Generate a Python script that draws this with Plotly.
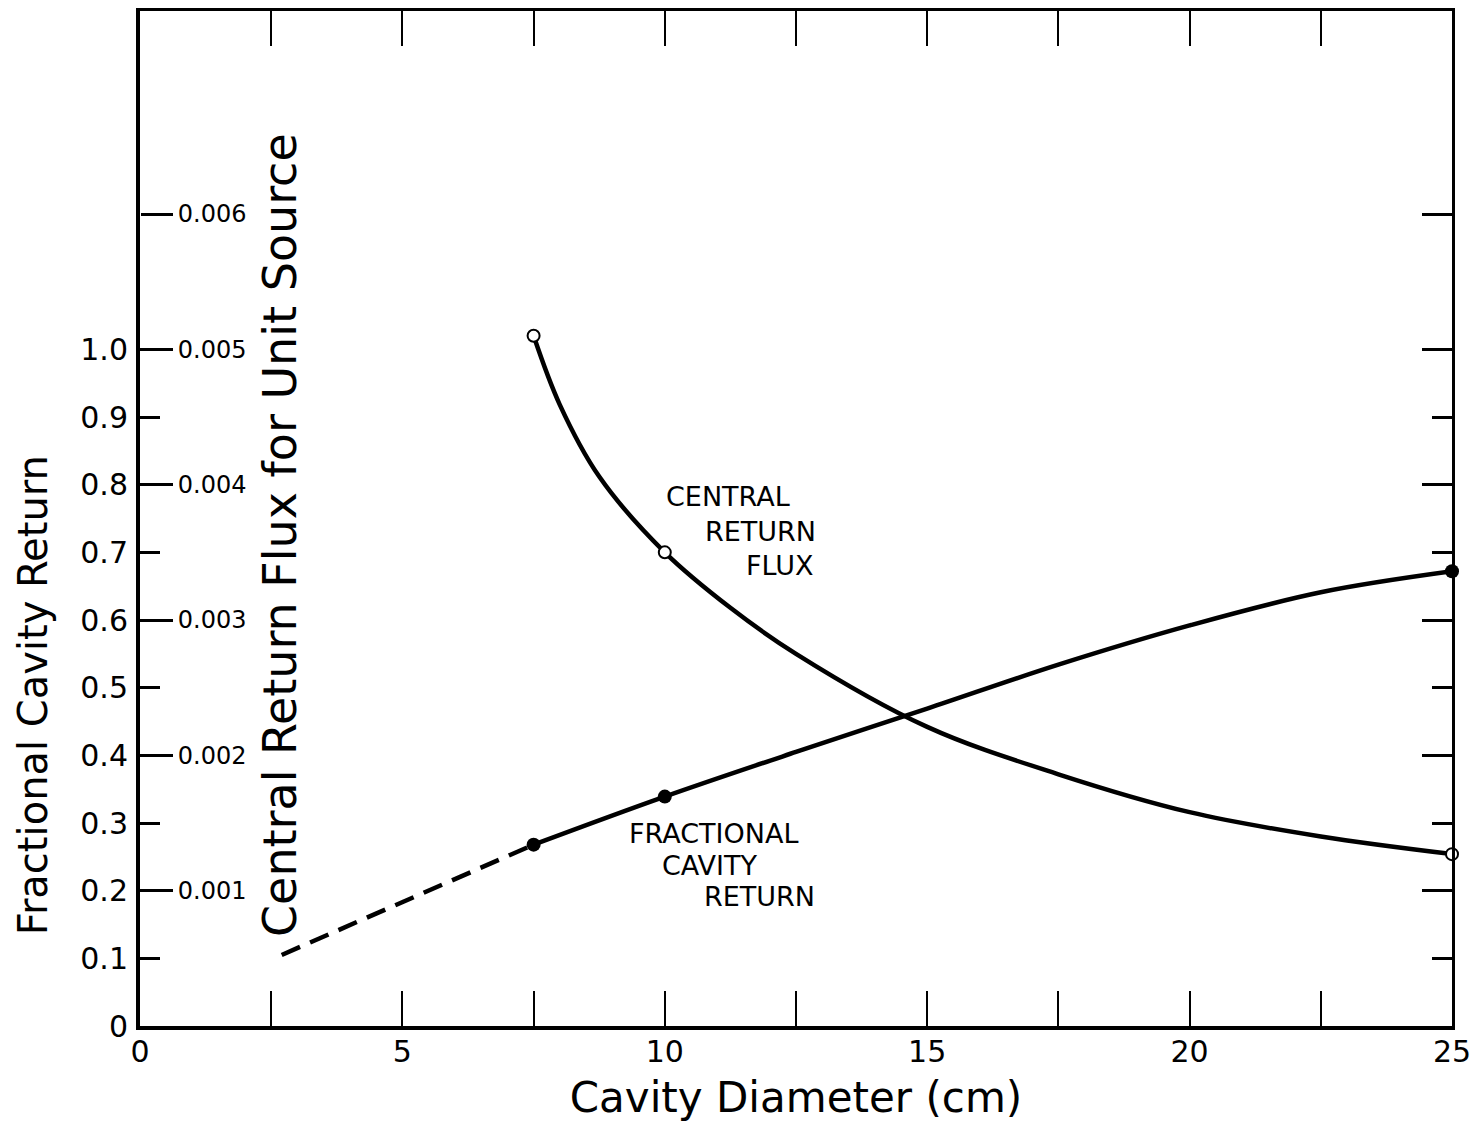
import plotly.graph_objects as go

# ---------------- data ----------------
# Fractional cavity return (left axis)
frac_dash_x = [2.7, 7.5]
frac_dash_y = [0.105, 0.268]
frac_curve_x = [7.5, 10.0, 12.5, 15.0, 17.5, 20.0, 22.5, 25.0]
frac_curve_y = [0.268, 0.339, 0.405, 0.469, 0.534, 0.592, 0.641, 0.672]
frac_pts_x = [7.5, 10.0, 25.0]
frac_pts_y = [0.268, 0.339, 0.672]

# Central return flux for unit source (right / inner axis)
flux_curve_x = [7.5, 8.0, 8.75, 10.0, 11.25, 12.5, 15.0, 17.5, 20.0, 22.5, 25.0]
flux_curve_y = [0.00510, 0.00459, 0.00406, 0.00350, 0.00309, 0.00275,
                0.00221, 0.00186, 0.00158, 0.00140, 0.00127]
flux_pts_x = [7.5, 10.0, 25.0]
flux_pts_y = [0.00510, 0.00350, 0.00127]

# ticks
x_tick_vals = [0, 2.5, 5, 7.5, 10, 12.5, 15, 17.5, 20, 22.5, 25]
x_tick_text = ["0", "", "5", "", "10", "", "15", "", "20", "", "25"]
x_top_ticks = [2.5, 5, 7.5, 10, 12.5, 15, 17.5, 20, 22.5]
y_tick_vals = [0, 0.1, 0.2, 0.3, 0.4, 0.5, 0.6, 0.7, 0.8, 0.9, 1.0]
y_tick_text = ["0", "0.1", "0.2", "0.3", "0.4", "0.5", "0.6", "0.7", "0.8", "0.9", "1.0"]
flux_tick_vals = [0.001, 0.002, 0.003, 0.004, 0.005, 0.006]
flux_tick_text = ["0.001", "0.002", "0.003", "0.004", "0.005", "0.006"]
flux_minor_vals = [0.0005, 0.0015, 0.0025, 0.0035, 0.0045]

# labels
frac_label = ["FRACTIONAL", "CAVITY", "RETURN"]
flux_label = ["CENTRAL", "RETURN", "FLUX"]
x_title = "Cavity Diameter (cm)"
y_title = "Fractional Cavity Return"
y2_title = "Central Return Flux for Unit Source"

FONT = "DejaVu Sans"
BLACK = "black"

fig = go.Figure()

# Fractional cavity return
fig.add_trace(go.Scatter(x=frac_dash_x, y=frac_dash_y, mode="lines",
                         line=dict(color=BLACK, width=4.5, dash="20px,11px"),
                         showlegend=False, xaxis="x", yaxis="y"))
fig.add_trace(go.Scatter(x=frac_curve_x, y=frac_curve_y, mode="lines",
                         line=dict(color=BLACK, width=4.5, shape="spline", smoothing=1.0),
                         showlegend=False, xaxis="x", yaxis="y"))
fig.add_trace(go.Scatter(x=frac_pts_x, y=frac_pts_y, mode="markers",
                         marker=dict(color=BLACK, size=14, line=dict(width=0)),
                         showlegend=False, xaxis="x2", yaxis="y", cliponaxis=False))

# Central return flux
fig.add_trace(go.Scatter(x=flux_curve_x, y=flux_curve_y, mode="lines",
                         line=dict(color=BLACK, width=4.5, shape="spline", smoothing=1.0),
                         showlegend=False, xaxis="x", yaxis="y2"))
fig.add_trace(go.Scatter(x=flux_pts_x, y=flux_pts_y, mode="markers",
                         marker=dict(color="white", size=12, line=dict(color=BLACK, width=2)),
                         showlegend=False, xaxis="x", yaxis="y3", cliponaxis=False))

Y_MAX = 1.5
FLUX_MAX = Y_MAX / 200.0

annotations = []
flux_pos = [(11.20, 0.783), (11.83, 0.731), (12.19, 0.681)]
frac_pos = [(10.92, 0.285), (10.86, 0.237), (11.80, 0.191)]
for txt, (ax, ay) in zip(flux_label, flux_pos):
    annotations.append(dict(x=ax, y=ay, xref="x", yref="y", text=txt, showarrow=False,
                            borderpad=0, font=dict(family=FONT, size=27, color=BLACK)))
for txt, (ax, ay) in zip(frac_label, frac_pos):
    annotations.append(dict(x=ax, y=ay, xref="x", yref="y", text=txt, showarrow=False,
                            borderpad=0, font=dict(family=FONT, size=27, color=BLACK)))
# rotated axis titles
annotations.append(dict(x=-0.0815, y=0.326, xref="paper", yref="paper", text=y_title,
                        textangle=-90, showarrow=False, xanchor="center", yanchor="middle",
                        font=dict(family=FONT, size=40, color=BLACK)))
annotations.append(dict(x=0.1067, y=0.4837, xref="paper", yref="paper", text=y2_title,
                        textangle=-90, showarrow=False, xanchor="center", yanchor="middle",
                        font=dict(family=FONT, size=46, color=BLACK)))

fig.update_layout(
    width=1473, height=1116, autosize=False,
    margin=dict(l=132, r=29, t=3, b=98),
    paper_bgcolor="white", plot_bgcolor="white",
    font=dict(family=FONT, color=BLACK),
    annotations=annotations,
    xaxis=dict(
        range=[0, 25], side="bottom",
        showline=True, linecolor=BLACK, linewidth=4, mirror=False,
        tickmode="array", tickvals=x_tick_vals, ticktext=x_tick_text,
        ticks="inside", ticklen=35, tickwidth=2, tickcolor=BLACK,
        tickfont=dict(family=FONT, size=30, color=BLACK), ticklabelstandoff=-4,
        showgrid=False, zeroline=False,
        title=dict(text=x_title, font=dict(family=FONT, size=42, color=BLACK), standoff=16),
    ),
    xaxis2=dict(
        range=[0, 25], overlaying="x", side="top", anchor="y",
        showline=True, linecolor=BLACK, linewidth=2.5,
        tickmode="array", tickvals=x_top_ticks,
        ticks="inside", ticklen=35, tickwidth=2, tickcolor=BLACK,
        showticklabels=False, showgrid=False, zeroline=False,
    ),
    yaxis=dict(
        range=[0, Y_MAX], side="left",
        showline=True, linecolor=BLACK, linewidth=4,
        tickmode="array", tickvals=y_tick_vals, ticktext=y_tick_text,
        ticks="inside", ticklen=20, tickwidth=2.5, tickcolor=BLACK,
        tickfont=dict(family=FONT, size=30, color=BLACK), ticklabelstandoff=2,
        showgrid=False, zeroline=False,
    ),
    yaxis2=dict(
        range=[0, FLUX_MAX], overlaying="y", side="right", anchor="x",
        showline=True, linecolor=BLACK, linewidth=2.5,
        tickmode="array", tickvals=flux_tick_vals,
        ticks="inside", ticklen=30, tickwidth=2.5, tickcolor=BLACK,
        minor=dict(tickmode="array", tickvals=flux_minor_vals, ticks="inside",
                   ticklen=20, tickwidth=2.5, tickcolor=BLACK),
        showticklabels=False, showgrid=False, zeroline=False,
    ),
    yaxis3=dict(
        range=[0, FLUX_MAX], overlaying="y", side="right", anchor="free", position=0,
        showline=False,
        tickmode="array", tickvals=flux_tick_vals, ticktext=flux_tick_text,
        ticks="outside", ticklen=32, tickwidth=2.5, tickcolor=BLACK,
        tickfont=dict(family=FONT, size=24, color=BLACK),
        showgrid=False, zeroline=False,
    ),
)

fig.write_html("out.html")
